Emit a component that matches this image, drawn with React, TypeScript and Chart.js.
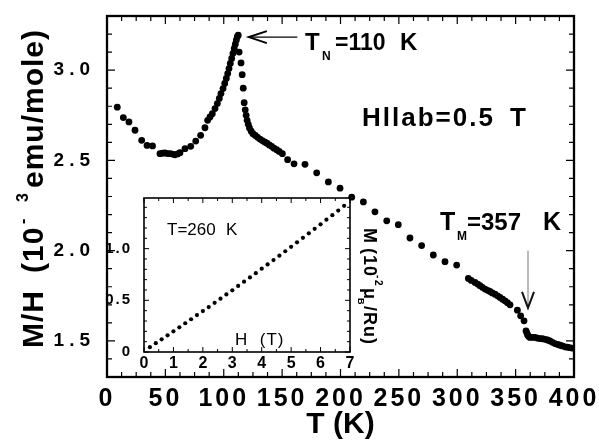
import { useEffect, useRef } from "react";
import { Chart, registerables } from "chart.js";

Chart.register(...registerables);

// Main curve: M/H (10^-3 emu/mole) versus temperature, H || ab = 0.5 T
const TEMPERATURE_K = [
  8.8, 14, 18.8, 24, 29.7, 34.3, 39, 45.4, 47.6, 49.7, 52, 54, 56, 58.2, 60.5, 62.5, 66.8, 71.7, 76, 80.2,
  83.9, 86.2, 88.2, 90.2, 92.5, 94.5, 96.2, 97.6, 99.4, 100.8, 102.2, 103.4, 104.5, 105.6, 106.8, 107.9, 109,
  109.9, 110.8, 111.6, 112.4, 113.2, 114.8, 115.8, 116.7, 117.5, 118.4, 119.2, 120, 121, 122, 123.5, 125, 127,
  129, 131, 133, 135, 137, 139, 141, 143, 145.3, 147.5, 150.2, 154.7, 160.2, 169.6, 179.6, 189.6, 199.6, 209.6,
  219.6, 229.5, 239.6, 249.5, 259.5, 269.5, 279.5, 289.5, 299.5, 309.5, 312, 315.2, 317.5, 319.5, 321.5, 323.8,
  326, 328, 330, 332.3, 334.5, 336.6, 338.8, 340.9, 343, 345.2, 351.5, 354.3, 357.2, 358.9, 359.6, 360.3, 361.2,
  362.3, 364.5, 366.6, 368.8, 370.9, 373, 375.2, 377.3, 379.4, 381.5, 383.7, 386, 388, 390, 392.3, 394.2, 396,
  398.2, 400,
];
const M_OVER_H = [
  2.795, 2.737, 2.713, 2.667, 2.611, 2.583, 2.58, 2.537, 2.54, 2.541, 2.538, 2.537, 2.535, 2.531, 2.536, 2.543,
  2.565, 2.578, 2.607, 2.639, 2.681, 2.722, 2.741, 2.759, 2.787, 2.815, 2.843, 2.87, 2.898, 2.926, 2.954, 2.981,
  3.009, 3.037, 3.065, 3.093, 3.12, 3.144, 3.167, 3.185, 3.194, 3.1, 3.04, 2.975, 2.9, 2.82, 2.78, 2.75, 2.722,
  2.7, 2.68, 2.662, 2.648, 2.638, 2.628, 2.618, 2.61, 2.602, 2.595, 2.586, 2.578, 2.568, 2.559, 2.55, 2.537,
  2.504, 2.481, 2.478, 2.431, 2.381, 2.346, 2.296, 2.27, 2.215, 2.165, 2.144, 2.07, 2.028, 1.976, 1.939, 1.92,
  1.846, 1.835, 1.824, 1.815, 1.806, 1.797, 1.787, 1.78, 1.774, 1.766, 1.759, 1.75, 1.741, 1.731, 1.722, 1.712,
  1.7, 1.67, 1.639, 1.611, 1.556, 1.545, 1.533, 1.525, 1.519, 1.52, 1.519, 1.515, 1.513, 1.512, 1.509, 1.505,
  1.5, 1.492, 1.485, 1.48, 1.476, 1.472, 1.467, 1.465, 1.463, 1.46, 1.46,
];
const T_TICKS = [0, 50, 100, 150, 200, 250, 300, 350, 400];
const MH_TICKS = [1.5, 2.0, 2.5, 3.0];

// Inset: magnetization isotherm at T = 260 K
const FIELD_T = [
  0.2, 0.4, 0.6, 0.8, 1.0, 1.2, 1.4, 1.6, 1.8, 2.0, 2.2, 2.4, 2.6, 2.8, 3.0, 3.2, 3.4, 3.6, 3.8, 4.0, 4.2, 4.4,
  4.6, 4.8, 5.0, 5.2, 5.4, 5.6, 5.8, 6.0, 6.2, 6.4, 6.6, 6.8,
];
const MOMENT = [
  0.047, 0.085, 0.123, 0.161, 0.2, 0.239, 0.278, 0.317, 0.357, 0.396, 0.435, 0.476, 0.516, 0.557, 0.597, 0.639,
  0.68, 0.722, 0.763, 0.806, 0.847, 0.889, 0.932, 0.975, 1.018, 1.061, 1.105, 1.148, 1.192, 1.235, 1.28, 1.324,
  1.368, 1.414,
];
const H_TICKS = [0, 1, 2, 3, 4, 5, 6, 7];
const M_TICKS = [0, 0.5, 1.0];

// Annotation anchors in data units
const TN_ARROW = { fromT: 163, toT: 121.5, at: 3.183 };
const TM_ARROW = { t: 360.6, from: 2.0, to: 1.683 };

const FONT = '"Liberation Sans", Arial, Helvetica, sans-serif';

// Inset canvas placement on the page
const INSET_LEFT = 80;
const INSET_TOP = 185;

type Piece = { t: string; x: number; dy?: number; size: number; weight?: string };

function drawPieces(ctx: CanvasRenderingContext2D, ox: number, oy: number, angle: number, pieces: Piece[], spacing = 0) {
  ctx.save();
  ctx.translate(ox, oy);
  ctx.rotate(angle);
  ctx.textAlign = "left";
  ctx.textBaseline = "alphabetic";
  ctx.fillStyle = "#000";
  (ctx as any).letterSpacing = `${spacing}px`;
  for (const p of pieces) {
    ctx.font = `${p.weight ?? "bold"} ${p.size}px ${FONT}`;
    ctx.fillText(p.t, p.x, p.dy ?? 0);
  }
  ctx.restore();
}

// Gives a scale's tick labels their own letter spacing and fixes its thickness.
function fixScale(size: { width?: number; height?: number }, spacing: string) {
  return (s: any) => {
    if (size.width !== undefined) s.width = size.width;
    if (size.height !== undefined) s.height = size.height;
    if (!s.__spaced) {
      const orig = s.drawLabels.bind(s);
      s.drawLabels = (area: any) => {
        const c = s.ctx;
        const prev = c.letterSpacing;
        c.letterSpacing = spacing;
        orig(area);
        c.letterSpacing = prev;
      };
      s.__spaced = true;
    }
  };
}

type FrameCfg = {
  lw: number;
  tickLw: number;
  majorLen: number;
  minorLen: number;
  xMajor: number[];
  xMinorStep: number;
  yMajor: number[];
  yMinorStep: number;
};

function minorValues(min: number, max: number, step: number) {
  const out: number[] = [];
  const k0 = Math.ceil(min / step - 1e-9);
  const k1 = Math.floor(max / step + 1e-9);
  for (let k = k0; k <= k1; k++) out.push(k * step);
  return out;
}

function drawFrame(chart: Chart, cfg: FrameCfg) {
  const ctx = chart.ctx;
  const { left, right, top, bottom } = chart.chartArea;
  const xs = chart.scales.x;
  const ys = chart.scales.y;
  ctx.save();
  ctx.strokeStyle = "#000";
  ctx.lineWidth = cfg.tickLw;
  ctx.beginPath();
  for (const v of minorValues(xs.min, xs.max, cfg.xMinorStep)) {
    const px = xs.getPixelForValue(v);
    const len = cfg.xMajor.some((m) => Math.abs(m - v) < 1e-6) ? cfg.majorLen : cfg.minorLen;
    ctx.moveTo(px, bottom);
    ctx.lineTo(px, bottom - len);
    ctx.moveTo(px, top);
    ctx.lineTo(px, top + len);
  }
  for (const v of minorValues(ys.min, ys.max, cfg.yMinorStep)) {
    const py = ys.getPixelForValue(v);
    const len = cfg.yMajor.some((m) => Math.abs(m - v) < 1e-6) ? cfg.majorLen : cfg.minorLen;
    ctx.moveTo(left, py);
    ctx.lineTo(left + len, py);
    ctx.moveTo(right, py);
    ctx.lineTo(right - len, py);
  }
  ctx.stroke();
  ctx.lineWidth = cfg.lw;
  ctx.strokeRect(left, top, right - left, bottom - top);
  ctx.restore();
}

export default function App() {
  const mainRef = useRef<HTMLCanvasElement | null>(null);
  const insetRef = useRef<HTMLCanvasElement | null>(null);

  useEffect(() => {
    if (!mainRef.current || !insetRef.current) return;

    const mainChart = new Chart(mainRef.current, {
      type: "scatter",
      data: {
        datasets: [
          {
            data: TEMPERATURE_K.map((t, i) => ({ x: t, y: M_OVER_H[i] })),
            pointRadius: 3.4,
            pointBackgroundColor: "#000",
            pointBorderWidth: 0,
            clip: 0,
          } as any,
        ],
      },
      options: {
        animation: false,
        responsive: false,
        devicePixelRatio: 1,
        events: [],
        layout: { padding: { top: 16, right: 25, left: 0, bottom: 0 } },
        plugins: { legend: { display: false }, tooltip: { enabled: false } },
        scales: {
          x: {
            type: "linear",
            min: 0,
            max: 400,
            afterBuildTicks: (s: any) => {
              s.ticks = T_TICKS.map((v) => ({ value: v }));
            },
            afterFit: fixScale({ height: 63 }, "3px"),
            grid: { display: false },
            border: { display: false },
            ticks: {
              color: "#000",
              font: { family: FONT, size: 25, weight: "bold" },
              padding: -1,
              maxRotation: 0,
              autoSkip: false,
              callback: (v: any) => String(v),
            },
          },
          y: {
            type: "linear",
            min: 1.3,
            max: 3.3,
            afterBuildTicks: (s: any) => {
              s.ticks = MH_TICKS.map((v) => ({ value: v }));
            },
            afterFit: fixScale({ width: 107 }, "5px"),
            grid: { display: false },
            border: { display: false },
            ticks: {
              color: "#000",
              font: { family: FONT, size: 19, weight: "bold" },
              padding: 4,
              callback: (v: any) => Number(v).toFixed(1),
            },
          },
        },
      },
      plugins: [
        {
          id: "mainDecor",
          afterDatasetsDraw(chart: any) {
            drawFrame(chart, {
              lw: 2.3,
              tickLw: 1.2,
              majorLen: 8,
              minorLen: 5,
              xMajor: T_TICKS,
              xMinorStep: 12.5,
              yMajor: MH_TICKS,
              yMinorStep: 0.1,
            });
          },
          afterDraw(chart: any) {
            const ctx: CanvasRenderingContext2D = chart.ctx;
            const xs = chart.scales.x;
            const ys = chart.scales.y;

            // T_N arrow
            const ay = ys.getPixelForValue(TN_ARROW.at);
            const ax0 = xs.getPixelForValue(TN_ARROW.fromT);
            const ax1 = xs.getPixelForValue(TN_ARROW.toT);
            ctx.save();
            ctx.strokeStyle = "#000";
            ctx.lineWidth = 1.4;
            ctx.beginPath();
            ctx.moveTo(ax0, ay);
            ctx.lineTo(ax1, ay);
            ctx.stroke();
            ctx.lineWidth = 2;
            ctx.beginPath();
            ctx.moveTo(ax1 + 18, ay - 6);
            ctx.lineTo(ax1, ay);
            ctx.lineTo(ax1 + 18, ay + 6);
            ctx.stroke();

            // T_M arrow
            const mx = xs.getPixelForValue(TM_ARROW.t);
            const my0 = ys.getPixelForValue(TM_ARROW.from);
            const my1 = ys.getPixelForValue(TM_ARROW.to);
            ctx.strokeStyle = "#777";
            ctx.lineWidth = 1;
            ctx.beginPath();
            ctx.moveTo(mx, my0);
            ctx.lineTo(mx, my1);
            ctx.stroke();
            ctx.strokeStyle = "#111";
            ctx.lineWidth = 2;
            ctx.beginPath();
            ctx.moveTo(mx - 6, my1 - 16);
            ctx.lineTo(mx, my1);
            ctx.lineTo(mx + 6, my1 - 16);
            ctx.stroke();
            ctx.restore();

            drawPieces(ctx, 0, 0, 0, [
              { t: "T", x: 305, dy: 50, size: 24 },
              { t: "N", x: 322, dy: 60, size: 12 },
              { t: "=110", x: 335, dy: 50, size: 23 },
              { t: "K", x: 400, dy: 50, size: 24 },
            ]);
            drawPieces(ctx, 0, 0, 0, [{ t: "Hllab=0.5", x: 362, dy: 126, size: 26 }], 2);
            drawPieces(ctx, 0, 0, 0, [{ t: "T", x: 510, dy: 126, size: 26 }]);
            drawPieces(ctx, 0, 0, 0, [
              { t: "T", x: 440, dy: 230, size: 25 },
              { t: "M", x: 457, dy: 240, size: 12 },
              { t: "=357", x: 467, dy: 230, size: 24 },
              { t: "K", x: 543, dy: 230, size: 25 },
            ]);

            // axis titles
            drawPieces(ctx, 43, 348, -Math.PI / 2, [
              { t: "M/H", x: 0, size: 30 },
              { t: "(10", x: 75, size: 30 },
              { t: "-", x: 124, dy: -15, size: 16 },
              { t: "3", x: 146, dy: -15, size: 16 },
              { t: "emu/mole)", x: 160, size: 30 },
            ], 1);
            ctx.save();
            ctx.font = `bold 30px ${FONT}`;
            ctx.fillStyle = "#000";
            ctx.textAlign = "center";
            ctx.textBaseline = "alphabetic";
            ctx.fillText("T (K)", (chart.chartArea.left + chart.chartArea.right) / 2, 433);
            ctx.restore();
          },
        },
      ],
    });

    const insetChart = new Chart(insetRef.current, {
      type: "scatter",
      data: {
        datasets: [
          {
            data: FIELD_T.map((h, i) => ({ x: h, y: MOMENT[i] })),
            pointRadius: 2.1,
            pointBackgroundColor: "#000",
            pointBorderWidth: 0,
          } as any,
        ],
      },
      options: {
        animation: false,
        responsive: false,
        devicePixelRatio: 1,
        events: [],
        layout: { padding: { top: 193 - INSET_TOP, right: 40, left: 0, bottom: 0 } },
        plugins: { legend: { display: false }, tooltip: { enabled: false } },
        scales: {
          x: {
            type: "linear",
            min: 0,
            max: 7,
            afterBuildTicks: (s: any) => {
              s.ticks = H_TICKS.map((v) => ({ value: v }));
            },
            afterFit: fixScale({ height: 28 }, "0px"),
            grid: { display: false },
            border: { display: false },
            ticks: {
              color: "#000",
              font: { family: FONT, size: 16, weight: "bold" },
              padding: -6,
              maxRotation: 0,
              autoSkip: false,
              callback: (v: any) => String(v),
            },
          },
          y: {
            type: "linear",
            min: 0,
            max: 1.49,
            afterBuildTicks: (s: any) => {
              s.ticks = M_TICKS.map((v) => ({ value: v }));
            },
            afterFit: fixScale({ width: 144 - INSET_LEFT }, "2px"),
            grid: { display: false },
            border: { display: false },
            ticks: {
              color: "#000",
              font: { family: FONT, size: 15, weight: "bold" },
              padding: 4,
              callback: (v: any) => (Number(v) === 0 ? "0" : Number(v).toFixed(1)),
            },
          },
        },
      },
      plugins: [
        {
          id: "insetDecor",
          afterDatasetsDraw(chart: any) {
            drawFrame(chart, {
              lw: 1.6,
              tickLw: 1,
              majorLen: 5,
              minorLen: 3,
              xMajor: H_TICKS,
              xMinorStep: 0.5,
              yMajor: M_TICKS,
              yMinorStep: 0.1,
            });
          },
          afterDraw(chart: any) {
            const ctx: CanvasRenderingContext2D = chart.ctx;
            const ox = INSET_LEFT;
            const oy = INSET_TOP;
            drawPieces(ctx, 0, 0, 0, [
              { t: "T=260", x: 167 - ox, dy: 235 - oy, size: 17, weight: "normal" },
              { t: "K", x: 226 - ox, dy: 235 - oy, size: 17, weight: "normal" },
            ]);
            drawPieces(ctx, 0, 0, 0, [{ t: "H  (T)", x: 235 - ox, dy: 345 - oy, size: 17, weight: "normal" }], 1);
            drawPieces(ctx, 364 - ox, 228 - oy, Math.PI / 2, [
              { t: "M", x: 0, size: 18 },
              { t: "(10", x: 20, size: 18 },
              { t: "-", x: 47, dy: -11, size: 10 },
              { t: "2", x: 52, dy: -11, size: 10 },
              { t: "\u03bc", x: 60, size: 18 },
              { t: "B", x: 70, dy: 6, size: 9 },
              { t: "/Ru)", x: 78, size: 18 },
            ], 1);
          },
        },
      ],
    });

    return () => {
      mainChart.destroy();
      insetChart.destroy();
    };
  }, []);

  return (
    <div style={{ position: "absolute", left: 0, top: 0, width: 599, height: 440, background: "#fff" }}>
      <canvas ref={mainRef} width={599} height={440} style={{ position: "absolute", left: 0, top: 0 }} />
      <canvas
        ref={insetRef}
        width={390 - INSET_LEFT}
        height={380 - INSET_TOP}
        style={{ position: "absolute", left: INSET_LEFT, top: INSET_TOP }}
      />
    </div>
  );
}
